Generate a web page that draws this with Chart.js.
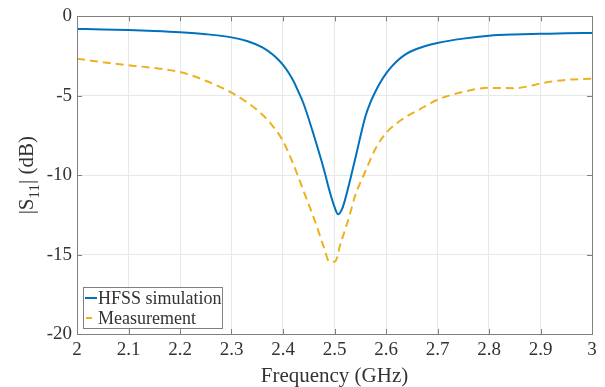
<!doctype html>
<html>

<head>
  <title>S11 chart</title>
  <script src="https://cdn.jsdelivr.net/npm/chart.js@4.4.0/dist/chart.umd.min.js"></script>
  <style>
    html, body {
      margin: 0;
      padding: 0;
      background: #fff;
    }
    .chart {
      width: 605px;
      height: 387px;
    }
  </style>
</head>

<body>
  <div class="chart">
    <canvas id="myChart"></canvas>
  </div>

  <script>
    var freqSim = [2.00, 2.05, 2.10, 2.15, 2.20, 2.25, 2.30, 2.33, 2.36, 2.38, 2.39, 2.40, 2.41, 2.42, 2.43, 2.44, 2.46, 2.48, 2.49, 2.50, 2.507, 2.515, 2.52, 2.53, 2.54, 2.55, 2.56, 2.57, 2.58, 2.59, 2.60, 2.61, 2.62, 2.635, 2.65, 2.675, 2.70, 2.75, 2.80, 2.85, 2.90, 2.95, 3.00];
    var hfssSim = [-0.79, -0.82, -0.86, -0.92, -1.0, -1.12, -1.32, -1.55, -1.95, -2.4, -2.7, -3.05, -3.5, -4.05, -4.75, -5.5, -7.5, -9.7, -10.95, -12.0, -12.46, -12.1, -11.6, -10.35, -9.0, -7.6, -6.3, -5.4, -4.7, -4.1, -3.6, -3.2, -2.85, -2.45, -2.18, -1.88, -1.67, -1.4, -1.22, -1.14, -1.1, -1.06, -1.04];

    var freqMeas = [2.00, 2.05, 2.10, 2.15, 2.20, 2.25, 2.30, 2.325, 2.35, 2.375, 2.40, 2.42, 2.44, 2.46, 2.48, 2.49, 2.50, 2.505, 2.51, 2.52, 2.53, 2.54, 2.56, 2.58, 2.60, 2.62, 2.64, 2.66, 2.70, 2.75, 2.80, 2.85, 2.88, 2.90, 2.95, 3.00];
    var measurement = [-2.67, -2.88, -3.08, -3.25, -3.5, -4.05, -4.8, -5.3, -5.9, -6.7, -7.85, -9.3, -11.0, -12.7, -14.6, -15.45, -15.45, -15.2, -14.5, -13.5, -12.45, -11.3, -9.75, -8.3, -7.35, -6.75, -6.3, -5.95, -5.25, -4.75, -4.5, -4.52, -4.38, -4.22, -4.0, -3.92];

    var xTicks = [2, 2.1, 2.2, 2.3, 2.4, 2.5, 2.6, 2.7, 2.8, 2.9, 3];
    var yTicks = [-20, -15, -10, -5, 0];
    var legendLabels = ['HFSS simulation', 'Measurement'];

    var colors = {
      blue: '#0072BD',
      yellow: '#EDB120',
      text: '#333333',
      axis: '#808080',
      grid: '#e8e8e8'
    };
    var serif = '"Liberation Serif", "DejaVu Serif", serif';

    function toPoints(xs, ys) {
      return xs.map(function(x, i) {
        return { x: x, y: ys[i] };
      });
    }

    // box, inner ticks, axis titles and the legend, drawn MATLAB style
    var decorations = {
      id: 'decorations',
      afterDraw: function(chart) {
        var ctx = chart.ctx;
        var a = chart.chartArea;
        var xs = chart.scales.x;
        var ys = chart.scales.y;
        ctx.save();

        ctx.strokeStyle = colors.axis;
        ctx.lineWidth = 1;
        ctx.beginPath();
        xTicks.forEach(function(v) {
          var px = Math.round(xs.getPixelForValue(v)) + 0.5;
          ctx.moveTo(px, a.bottom); ctx.lineTo(px, a.bottom - 5);
          ctx.moveTo(px, a.top); ctx.lineTo(px, a.top + 5);
        });
        yTicks.forEach(function(v) {
          var py = Math.round(ys.getPixelForValue(v)) + 0.5;
          ctx.moveTo(a.left, py); ctx.lineTo(a.left + 5, py);
          ctx.moveTo(a.right, py); ctx.lineTo(a.right - 5, py);
        });
        ctx.stroke();
        ctx.strokeRect(Math.round(a.left) + 0.5, Math.round(a.top) + 0.5,
          Math.round(a.right - a.left), Math.round(a.bottom - a.top));

        // x title
        ctx.fillStyle = colors.text;
        ctx.font = '21px ' + serif;
        ctx.textAlign = 'center';
        ctx.textBaseline = 'alphabetic';
        ctx.fillText('Frequency (GHz)', (a.left + a.right) / 2, 382);

        // y title with subscript
        ctx.save();
        ctx.translate(33, (a.top + a.bottom) / 2);
        ctx.rotate(-Math.PI / 2);
        ctx.textAlign = 'left';
        var p1 = '|S', p2 = '11', p3 = '| (dB)';
        ctx.font = '21px ' + serif;
        var w1 = ctx.measureText(p1).width;
        var w3 = ctx.measureText(p3).width;
        ctx.font = '15px ' + serif;
        var w2 = ctx.measureText(p2).width;
        var x0 = -(w1 + w2 + w3) / 2;
        ctx.font = '21px ' + serif;
        ctx.fillText(p1, x0, 0);
        ctx.font = '15px ' + serif;
        ctx.fillText(p2, x0 + w1, 6);
        ctx.font = '21px ' + serif;
        ctx.fillText(p3, x0 + w1 + w2, 0);
        ctx.restore();

        // legend
        var bx = 83, by = 287, bw = 139, bh = 41;
        ctx.fillStyle = '#ffffff';
        ctx.fillRect(bx, by, bw, bh);
        ctx.strokeStyle = colors.axis;
        ctx.strokeRect(bx + 0.5, by + 0.5, bw, bh);
        var swatch = [colors.blue, colors.yellow];
        ctx.font = '18px ' + serif;
        ctx.textAlign = 'left';
        ctx.textBaseline = 'middle';
        legendLabels.forEach(function(label, i) {
          var cy = by + 11 + i * 20;
          ctx.strokeStyle = swatch[i];
          ctx.lineWidth = 2;
          ctx.beginPath();
          if (i === 0) {
            ctx.moveTo(85, cy); ctx.lineTo(97, cy);
          } else {
            ctx.moveTo(86, cy); ctx.lineTo(92, cy);
          }
          ctx.stroke();
          ctx.fillStyle = colors.text;
          ctx.fillText(label, 98, cy + 1);
        });

        ctx.restore();
      }
    };

    var config = {
      type: 'line',
      data: {
        datasets: [{
          label: legendLabels[0],
          data: toPoints(freqSim, hfssSim),
          borderColor: colors.blue,
          borderWidth: 2,
          pointRadius: 0,
          fill: false,
          cubicInterpolationMode: 'monotone'
        }, {
          label: legendLabels[1],
          data: toPoints(freqMeas, measurement),
          borderColor: colors.yellow,
          borderWidth: 2,
          borderDash: [8, 5],
          pointRadius: 0,
          fill: false,
          cubicInterpolationMode: 'monotone'
        }]
      },
      options: {
        responsive: false,
        animation: false,
        layout: {
          padding: { left: 0, top: 14, right: 13, bottom: 0 }
        },
        scales: {
          x: {
            type: 'linear',
            min: 2,
            max: 3,
            afterFit: function(scale) { scale.height = 53; },
            afterBuildTicks: function(scale) {
              scale.ticks = xTicks.map(function(v) { return { value: v }; });
            },
            ticks: {
              padding: 5,
              color: colors.text,
              font: { family: serif, size: 19 },
              maxRotation: 0,
              callback: function(v) {
                return (v === 2 || v === 3) ? String(v) : v.toFixed(1);
              }
            },
            grid: { color: colors.grid, drawTicks: false },
            border: { display: false }
          },
          y: {
            min: -20,
            max: 0,
            afterFit: function(scale) { scale.width = 77; },
            afterBuildTicks: function(scale) {
              scale.ticks = yTicks.map(function(v) { return { value: v }; });
            },
            ticks: {
              padding: 5,
              color: colors.text,
              font: { family: serif, size: 19 }
            },
            grid: { color: colors.grid, drawTicks: false },
            border: { display: false }
          }
        },
        plugins: {
          legend: { display: false },
          tooltip: { enabled: false }
        }
      },
      plugins: [decorations]
    };

    var canvas = document.getElementById('myChart');
    canvas.width = 605;
    canvas.height = 387;
    window.myChart = new Chart(canvas.getContext('2d'), config);
  </script>
</body>

</html>
